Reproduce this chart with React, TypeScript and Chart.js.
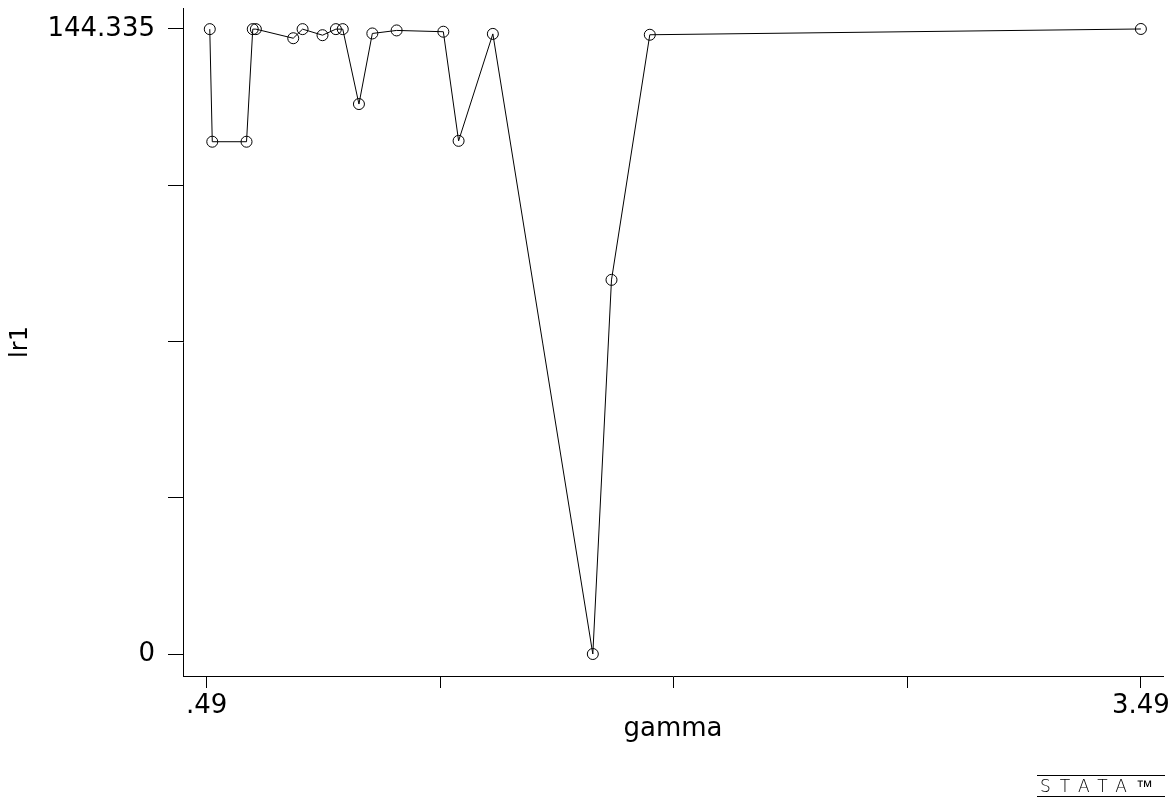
import React, { useEffect, useRef } from "react";
import { Chart, registerables } from "chart.js";

Chart.register(...registerables);

const gammaValues = [0.5, 0.508, 0.618, 0.638, 0.648, 0.768, 0.798, 0.862, 0.905, 0.927, 0.979, 1.022, 1.1, 1.25, 1.299, 1.409, 1.73, 1.79, 1.913, 3.49];
const lr1Values = [144.3, 118.3, 118.3, 144.3, 144.3, 142.2, 144.3, 142.9, 144.3, 144.3, 127.0, 143.3, 144.0, 143.7, 118.5, 143.2, 0, 86.4, 143.0, 144.335];

const xTickValues = [0.49, 1.24, 1.99, 2.74, 3.49];
const xTickLabels = [".49", "", "", "", "3.49"];
const yTickValues = [0, 36.08375, 72.1675, 108.25125, 144.335];
const yTickLabels = ["0", "", "", "", "144.335"];

const FONT = "'DejaVu Sans', sans-serif";

export default function App() {
  const canvasRef = useRef<HTMLCanvasElement | null>(null);

  useEffect(() => {
    if (!canvasRef.current) return;
    const points = gammaValues.map((g, i) => ({ x: g, y: lr1Values[i] }));
    const chart = new Chart(canvasRef.current, {
      type: "scatter",
      data: {
        datasets: [
          {
            data: points,
            showLine: true,
            borderColor: "#000",
            borderWidth: 1,
            pointRadius: 5.5,
            pointBorderWidth: 1,
            pointBorderColor: "#000",
            pointBackgroundColor: "rgba(0,0,0,0)",
            pointStyle: "circle",
          },
        ],
      },
      options: {
        animation: false,
        responsive: false,
        maintainAspectRatio: false,
        layout: { padding: { top: 8, right: 13, left: 0, bottom: 0 } },
        plugins: { legend: { display: false }, tooltip: { enabled: false } },
        scales: {
          x: {
            type: "linear",
            min: 0.414,
            max: 3.561,
            afterBuildTicks: (s: any) => {
              s.ticks = xTickValues.map((v) => ({ value: v }));
            },
            afterFit: (s: any) => {
              s.height = 123;
              s.paddingLeft = 0;
              s.paddingRight = 0;
            },
            ticks: {
              autoSkip: false,
              maxRotation: 0,
              padding: 3,
              color: "#000",
              font: { family: FONT, size: 26 },
              callback: (v: any) => {
                const i = xTickValues.findIndex((t) => Math.abs(t - Number(v)) < 1e-6);
                return i >= 0 ? xTickLabels[i] : "";
              },
            },
            grid: {
              display: true,
              drawOnChartArea: false,
              drawTicks: true,
              tickLength: 12,
              color: "#000",
              lineWidth: 1,
            },
            border: { display: true, color: "#000", width: 1 },
            title: {
              display: true,
              text: "gamma",
              color: "#000",
              font: { family: FONT, size: 26 },
              padding: { top: 0, bottom: 54 },
            },
          },
          y: {
            type: "linear",
            min: -5.08,
            max: 149.18,
            afterBuildTicks: (s: any) => {
              s.ticks = yTickValues.map((v) => ({ value: v }));
            },
            afterFit: (s: any) => {
              s.width = 183;
              s.paddingTop = 0;
              s.paddingBottom = 0;
            },
            ticks: {
              autoSkip: false,
              padding: 13,
              color: "#000",
              font: { family: FONT, size: 26 },
              callback: (v: any) => {
                const i = yTickValues.findIndex((t) => Math.abs(t - Number(v)) < 1e-6);
                return i >= 0 ? yTickLabels[i] : "";
              },
            },
            grid: {
              display: true,
              drawOnChartArea: false,
              drawTicks: true,
              tickLength: 15,
              color: "#000",
              lineWidth: 1,
            },
            border: { display: true, color: "#000", width: 1 },
            title: {
              display: true,
              text: "lr1",
              color: "#000",
              font: { family: FONT, size: 24 },
              padding: { top: 6, bottom: 0 },
            },
          },
        },
      },
    });
    return () => chart.destroy();
  }, []);

  return (
    <div style={{ position: "fixed", left: 0, top: 0, width: 1176, height: 799, background: "#fff" }}>
      <canvas ref={canvasRef} width={1176} height={799} style={{ width: 1176, height: 799, display: "block" }} />
      <div
        style={{
          position: "absolute",
          left: 1037,
          top: 775,
          width: 128,
          height: 20,
          borderTop: "1px solid #000",
          borderBottom: "1px solid #000",
          fontFamily: FONT,
          fontSize: 17,
          lineHeight: "20px",
          letterSpacing: 9,
          textAlign: "center",
          color: "#000",
          fontWeight: 300,
          whiteSpace: "nowrap",
          overflow: "hidden",
        }}
      >
        STATA™
      </div>
    </div>
  );
}
